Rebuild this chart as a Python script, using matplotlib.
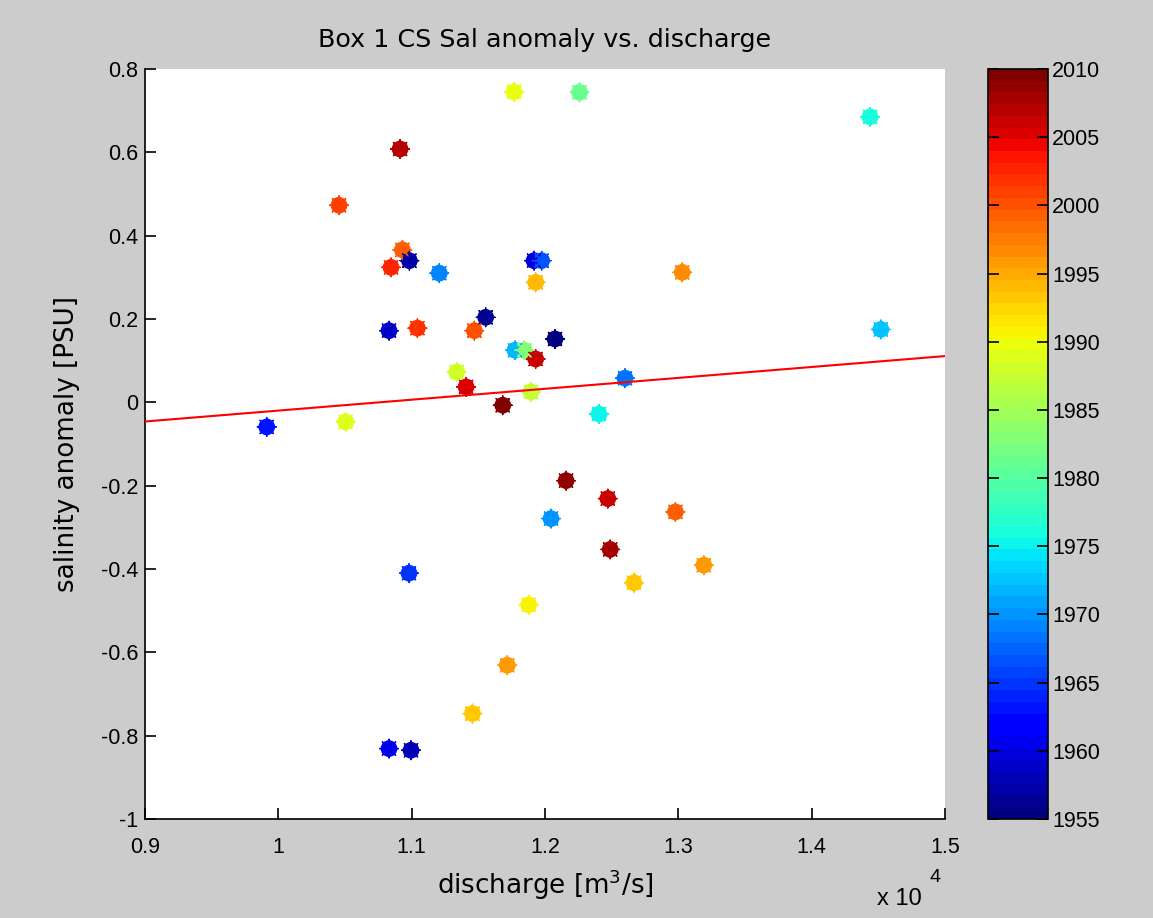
import matplotlib
matplotlib.use('Agg')
import matplotlib.pyplot as plt
from matplotlib.colors import Normalize

# ---------------- data ----------------
discharge = [11768, 10913, 10455, 10930, 10983, 10845, 11207, 11918, 11975, 11930,
             11555, 10830, 11043, 11470, 12075, 11775, 11845, 11930, 11338, 11408,
             11895, 11683, 9913, 10505, 12259, 14438, 13029, 14519, 12600, 12405,
             12158, 12471, 12045, 12978, 12489, 13191, 12667, 11878, 11717, 11456,
             10980, 10830, 10995]
anomaly = [0.745, 0.608, 0.473, 0.366, 0.340, 0.324, 0.310, 0.340, 0.340, 0.288,
           0.204, 0.172, 0.178, 0.172, 0.152, 0.125, 0.125, 0.104, 0.073, 0.037,
           0.025, -0.007, -0.059, -0.047, 0.744, 0.685, 0.312, 0.175, 0.058, -0.028,
           -0.188, -0.231, -0.279, -0.263, -0.353, -0.391, -0.433, -0.486, -0.631, -0.747,
           -0.410, -0.831, -0.835]
year = [1990, 2007, 2001, 1999, 1957, 2003, 1969, 1960, 1967, 1994,
        1956, 1959, 2002, 2000, 1955, 1972, 1983, 2006, 1988, 2005,
        1987, 2010, 1963, 1989, 1981, 1976, 1997, 1973, 1968, 1975,
        2009, 2006, 1970, 1999, 2008, 1996, 1993, 1991, 1996, 1993,
        1965, 1961, 1958]

fit_x = [9000, 15000]
fit_y = [-0.046, 0.111]

xticks = [9000, 10000, 11000, 12000, 13000, 14000, 15000]
xticklabels = ['0.9', '1', '1.1', '1.2', '1.3', '1.4', '1.5']
yticks = [-1, -0.8, -0.6, -0.4, -0.2, 0, 0.2, 0.4, 0.6, 0.8]
yticklabels = ['-1', '-0.8', '-0.6', '-0.4', '-0.2', '0', '0.2', '0.4', '0.6', '0.8']
cbar_ticks = [1955, 1960, 1965, 1970, 1975, 1980, 1985, 1990, 1995, 2000, 2005, 2010]

title = 'Box 1 CS Sal anomaly vs. discharge'
xlabel = 'discharge [m$^3$/s]'
ylabel = 'salinity anomaly [PSU]'
offset_base = 'x 10'
offset_exp = '4'

# ---------------- figure ----------------
plt.rcParams['font.family'] = ['Liberation Sans', 'DejaVu Sans']
plt.rcParams['mathtext.fontset'] = 'custom'
plt.rcParams['mathtext.rm'] = 'DejaVu Sans'

W, H = 1153, 918
fig = plt.figure(figsize=(W / 100, H / 100), dpi=100, facecolor='#cccccc')
ax = fig.add_axes([145 / W, 1 - 819 / H, 800 / W, 750 / H])
cax = fig.add_axes([988 / W, 1 - 819 / H, 60 / W, 750 / H])

cmap = plt.get_cmap('jet', 64)
norm = Normalize(1955, 2010)

sc = ax.scatter(discharge, anomaly, c=year, cmap=cmap, norm=norm, s=145,
                marker='o', linewidths=0, zorder=2)
ax.scatter(discharge, anomaly, c=year, cmap=cmap, norm=norm, s=180,
           marker=(8, 2, 0), linewidths=1.0, zorder=2)
ax.plot(fit_x, fit_y, color='red', lw=1.5, zorder=3)

ax.set_xlim(9000, 15000)
ax.set_ylim(-1, 0.8)
ax.set_xticks(xticks)
ax.set_xticklabels(xticklabels)
ax.set_yticks(yticks)
ax.set_yticklabels(yticklabels)
ax.spines['top'].set_visible(False)
ax.spines['right'].set_visible(False)
for s in ('left', 'bottom'):
    ax.spines[s].set_linewidth(1.2)
ax.tick_params(direction='in', length=8, width=1.2, labelsize=15.5, colors='black')
ax.tick_params(axis='x', pad=13)
ax.tick_params(axis='y', pad=5)

lab_font = ['DejaVu Sans']
ax.set_title(title, fontsize=18.3, pad=16, family=lab_font)
ax.set_xlabel(xlabel, fontsize=18.8, labelpad=7, family=lab_font)
ax.set_ylabel(ylabel, fontsize=18.8, labelpad=15, family=lab_font)

fig.text(877 / W, 1 - 899 / H, offset_base, fontsize=17, va='center', ha='left')
fig.text(929 / W, 1 - 878 / H, offset_exp, fontsize=14, va='center', ha='left')

cb = fig.colorbar(sc, cax=cax)
cb.set_ticks(cbar_ticks)
cb.outline.set_linewidth(1.2)
cax.tick_params(direction='in', length=8, width=1.2, left=True, right=True,
                labelsize=15.5, pad=3)

fig.savefig('out.png', dpi=100, facecolor=fig.get_facecolor())
